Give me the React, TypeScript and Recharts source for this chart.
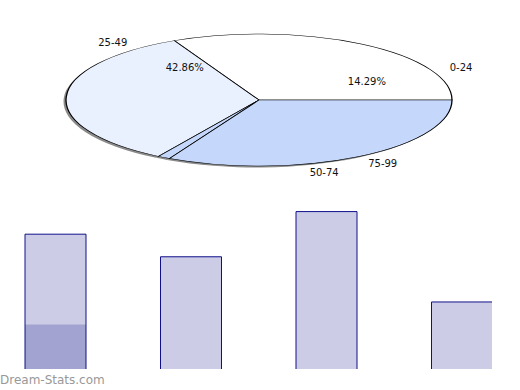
import { PieChart, Pie, Cell, BarChart, Bar, XAxis, YAxis } from 'recharts';

// age ranges shared by the pie and the bars
const ranges = ['0-24', '25-49', '50-74', '75-99'];
// pie slice sizes as drawn (degrees of the circle)
const sliceShare = [116, 122.6, 3.8, 117.6];
// percentage labels as printed on the pie
const pctText = ['14.29%', '42.86%', '', ''];
// bar heights and the highlighted part of the first bar
const counts = [6, 5, 7, 3];
const highlight = [2, 0, 0, 0];

const sliceColors = ['#ffffff', '#eaf1fe', '#c5d8fb', '#c5d8fb'];
// where the range / percent labels sit around the ellipse (deg)
const nameAngle = [25, 131, 287, 303.7];
const pctAngle = [26.6, 128, 0, 0];

const SQ = 0.342; // vertical squash of the pie
const PIE_H = 500;
const PIE_CY = PIE_H / 2;

const pieData = ranges.map((r, i) => ({ name: r, value: sliceShare[i] }));
const barData = ranges.map((r, i) => ({ range: r, count: counts[i], hi: highlight[i] }));

function PieLabel(props: any) {
  const { cx, cy, outerRadius, index } = props;
  const put = (deg: number, f: number, txt: string, key: string) => {
    const a = (deg * Math.PI) / 180;
    const x = cx + f * outerRadius * Math.cos(a);
    const y = cy - f * outerRadius * Math.sin(a);
    return (
      <text
        key={key}
        x={0}
        y={0}
        transform={`translate(${x},${y}) scale(1,${1 / SQ})`}
        textAnchor="middle"
        dominantBaseline="central"
        fontSize={10}
        fontFamily="DejaVu Sans"
        fill="#111"
      >
        {txt}
      </text>
    );
  };
  return (
    <g>
      {put(nameAngle[index], 1.155, ranges[index], 'n')}
      {pctText[index] ? put(pctAngle[index], 0.625, pctText[index], 'p') : null}
    </g>
  );
}

export default function App() {
  return (
    <div style={{ position: 'absolute', left: 0, top: 0, width: 520, height: 390, background: '#fff', fontFamily: 'DejaVu Sans', overflow: 'hidden' }}>
      <div
        style={{
          position: 'absolute',
          left: 0,
          top: 99.5 - PIE_CY,
          width: 520,
          height: PIE_H,
          transform: `scaleY(${SQ})`,
          transformOrigin: `0 ${PIE_CY}px`,
        }}
      >
        <PieChart width={520} height={PIE_H} margin={{ top: 0, right: 0, bottom: 0, left: 0 }}>
          {/* drop shadow under the pie */}
          <Pie
            data={pieData}
            dataKey="value"
            cx={256.5}
            cy={PIE_CY + 1.5 / SQ}
            outerRadius={193}
            startAngle={0}
            endAngle={360}
            stroke="none"
            fill="#8a8a8a"
            isAnimationActive={false}
          />
          <Pie
            data={pieData}
            dataKey="value"
            cx={259}
            cy={PIE_CY}
            outerRadius={193}
            startAngle={0}
            endAngle={360}
            stroke="#000"
            strokeWidth={1.3}
            label={PieLabel}
            labelLine={false}
            isAnimationActive={false}
          >
            {pieData.map((d, i) => (
              <Cell key={d.name} fill={sliceColors[i]} stroke="#000" strokeWidth={1.3} vectorEffect="non-scaling-stroke" />
            ))}
          </Pie>
        </PieChart>
      </div>

      <div style={{ position: 'absolute', left: 0, top: 0, width: 492, height: 369, overflow: 'hidden' }}>
        <div style={{ position: 'absolute', left: -12, top: 189 }}>
          <BarChart width={542} height={183} data={barData} margin={{ top: 0, right: 0, bottom: 0, left: 0 }} barSize={61} barGap={-61}>
            <XAxis dataKey="range" hide />
            <YAxis hide domain={[-0.1, 8]} />
            <Bar dataKey="count" fill="#000080" fillOpacity={0.2} stroke="#10108a" strokeWidth={1} isAnimationActive={false} />
            <Bar dataKey="hi" fill="#000080" fillOpacity={0.2} isAnimationActive={false} />
          </BarChart>
        </div>
      </div>

      <div style={{ position: 'absolute', left: 0, top: 373, fontSize: 12, lineHeight: '14px', color: '#999', whiteSpace: 'nowrap' }}>
        Dream-Stats.com
      </div>
    </div>
  );
}
